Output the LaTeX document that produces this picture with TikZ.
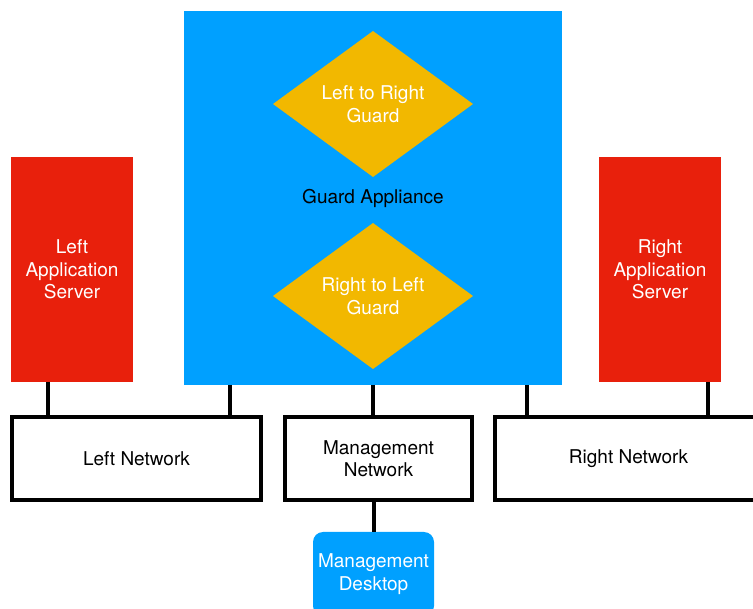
\documentclass[tikz,border=0pt]{standalone}
\usepackage{fontspec}
\setmainfont{TeX Gyre Heros}
\usetikzlibrary{shapes.geometric}
\definecolor{applblue}{RGB}{0,160,255}
\definecolor{srvred}{RGB}{232,32,12}
\definecolor{guardgold}{RGB}{242,184,0}
\begin{document}
\begin{tikzpicture}[x=1pt,y=-1pt,
  every node/.style={font=\fontsize{19}{22.5}\selectfont, align=center, inner sep=0pt, outer sep=0pt},
  server/.style={rectangle, fill=srvred, text=white, minimum width=122pt, minimum height=225pt},
  appliance/.style={rectangle, fill=applblue, text=black, minimum width=378pt, minimum height=374pt},
  guardbox/.style={diamond, fill=guardgold, text=white, aspect=1.37, minimum width=200pt, minimum height=146pt},
  network/.style={rectangle, draw=black, line width=3.5pt, fill=white, text=black, minimum height=83pt},
  desktop/.style={rectangle, rounded corners=10pt, fill=applblue, text=white, minimum width=121pt, minimum height=84pt},
  link/.style={line width=4pt, draw=black}]
\useasboundingbox (0,0) rectangle (753,609);
\clip (0,0) rectangle (753,609);

% hosts and the guard appliance
\node[server] (lsrv) at (72,269.5) {Left\\Application\\Server};
\node[server] (rsrv) at (660,269.5) {Right\\Application\\Server};
\node[appliance] (appl) at (373,198) {Guard Appliance};
\node[guardbox] (l2r) at (373,104) {Left to Right\\Guard};
\node[guardbox] (r2l) at (373,296) {Right to Left\\Guard};

% networks
\node[network, minimum width=249pt] (lnet) at (136.5,458.5) {Left Network};
\node[network, minimum width=187pt] (mnet) at (378.5,458.5) {Management\\Network};
\node[network, minimum width=267pt] (rnet) at (628.5,458.5) {Right Network};

% management workstation
\node[desktop] (dsk) at (373.5,574) {Management\\Desktop};

% links
\draw[link] ([xshift=-24pt]lsrv.south) -- ([xshift=-24pt]lsrv.south |- lnet.north);
\draw[link] ([xshift=-143pt]appl.south) -- ([xshift=-143pt]appl.south |- lnet.north);
\draw[link] (appl.south) -- (appl.south |- mnet.north);
\draw[link] ([xshift=154pt]appl.south) -- ([xshift=154pt]appl.south |- rnet.north);
\draw[link] ([xshift=48pt]rsrv.south) -- ([xshift=48pt]rsrv.south |- rnet.north);
\draw[link] (dsk.north |- mnet.south) -- (dsk.north);
\end{tikzpicture}
\end{document}
